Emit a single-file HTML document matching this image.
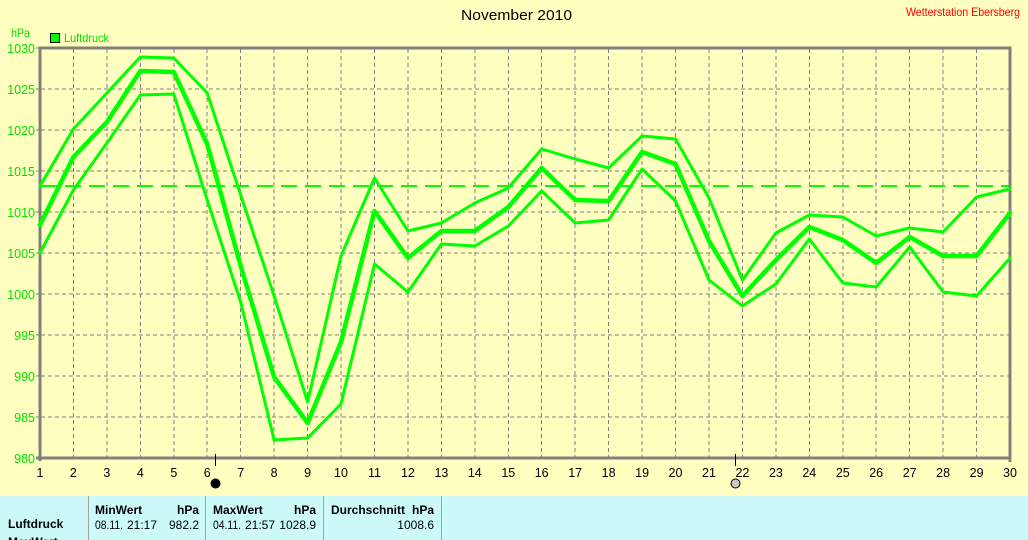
<!DOCTYPE html>
<html>
<head>
<meta charset="utf-8">
<style>
  html, body { margin: 0; padding: 0; background: #FFFFC0; }
  svg { display: block; }
  text { font-family: "Liberation Sans", "DejaVu Sans", sans-serif; }
</style>
</head>
<body>
<svg width="1028" height="540" viewBox="0 0 1028 540" xmlns="http://www.w3.org/2000/svg">
  <rect x="0" y="0" width="1028" height="540" fill="#FFFFC0"/>

  <text x="461" y="20" font-size="15" fill="#000" textLength="111" lengthAdjust="spacingAndGlyphs">November 2010</text>
  <text x="906" y="16" font-size="12" fill="#FF0000" textLength="114" lengthAdjust="spacingAndGlyphs">Wetterstation Ebersberg</text>

  <text x="11" y="37" font-size="12" fill="#00E000" textLength="19" lengthAdjust="spacingAndGlyphs">hPa</text>
  <rect x="50.5" y="33.5" width="9" height="9" fill="#00FF00" stroke="#000" stroke-width="1"/>
  <text x="64" y="42" font-size="12" fill="#00E000" textLength="45" lengthAdjust="spacingAndGlyphs">Luftdruck</text>

  <g stroke="#808080" stroke-width="1" stroke-dasharray="4,3" shape-rendering="crispEdges">
    <line x1="73.4" y1="49" x2="73.4" y2="457"/>
    <line x1="106.9" y1="49" x2="106.9" y2="457"/>
    <line x1="140.3" y1="49" x2="140.3" y2="457"/>
    <line x1="173.8" y1="49" x2="173.8" y2="457"/>
    <line x1="207.2" y1="49" x2="207.2" y2="457"/>
    <line x1="240.7" y1="49" x2="240.7" y2="457"/>
    <line x1="274.1" y1="49" x2="274.1" y2="457"/>
    <line x1="307.6" y1="49" x2="307.6" y2="457"/>
    <line x1="341" y1="49" x2="341" y2="457"/>
    <line x1="374.5" y1="49" x2="374.5" y2="457"/>
    <line x1="407.9" y1="49" x2="407.9" y2="457"/>
    <line x1="441.4" y1="49" x2="441.4" y2="457"/>
    <line x1="474.8" y1="49" x2="474.8" y2="457"/>
    <line x1="508.3" y1="49" x2="508.3" y2="457"/>
    <line x1="541.7" y1="49" x2="541.7" y2="457"/>
    <line x1="575.2" y1="49" x2="575.2" y2="457"/>
    <line x1="608.6" y1="49" x2="608.6" y2="457"/>
    <line x1="642.1" y1="49" x2="642.1" y2="457"/>
    <line x1="675.5" y1="49" x2="675.5" y2="457"/>
    <line x1="709" y1="49" x2="709" y2="457"/>
    <line x1="742.4" y1="49" x2="742.4" y2="457"/>
    <line x1="775.9" y1="49" x2="775.9" y2="457"/>
    <line x1="809.3" y1="49" x2="809.3" y2="457"/>
    <line x1="842.8" y1="49" x2="842.8" y2="457"/>
    <line x1="876.2" y1="49" x2="876.2" y2="457"/>
    <line x1="909.7" y1="49" x2="909.7" y2="457"/>
    <line x1="943.1" y1="49" x2="943.1" y2="457"/>
    <line x1="976.6" y1="49" x2="976.6" y2="457"/>

    <line x1="41" y1="89" x2="1009" y2="89"/>
    <line x1="41" y1="130" x2="1009" y2="130"/>
    <line x1="41" y1="171" x2="1009" y2="171"/>
    <line x1="41" y1="212" x2="1009" y2="212"/>
    <line x1="41" y1="253" x2="1009" y2="253"/>
    <line x1="41" y1="294" x2="1009" y2="294"/>
    <line x1="41" y1="335" x2="1009" y2="335"/>
    <line x1="41" y1="376" x2="1009" y2="376"/>
    <line x1="41" y1="417" x2="1009" y2="417"/>
  </g>

  <line x1="41" y1="186" x2="1009" y2="186" stroke="#00FF00" stroke-width="2" stroke-dasharray="16,8" shape-rendering="crispEdges"/>

  <g stroke="#808080" stroke-width="3" fill="none" shape-rendering="crispEdges">
    <polyline points="40,461 40,48 1010,48 1010,462"/>
    <line x1="36" y1="458" x2="1011" y2="458"/>
  </g>
  <g stroke="#808080" stroke-width="1" shape-rendering="crispEdges">
    <line x1="36" y1="48" x2="40" y2="48"/>
    <line x1="36" y1="89" x2="40" y2="89"/>
    <line x1="36" y1="130" x2="40" y2="130"/>
    <line x1="36" y1="171" x2="40" y2="171"/>
    <line x1="36" y1="212" x2="40" y2="212"/>
    <line x1="36" y1="253" x2="40" y2="253"/>
    <line x1="36" y1="294" x2="40" y2="294"/>
    <line x1="36" y1="335" x2="40" y2="335"/>
    <line x1="36" y1="376" x2="40" y2="376"/>
    <line x1="36" y1="417" x2="40" y2="417"/>
  </g>

  <g fill="none" stroke="#00FF00" stroke-linejoin="round" stroke-linecap="round">
    <polyline stroke-width="3" points="40,186 73.4,129 106.9,93 140.3,57 173.8,58 207.2,93 240.7,195 274.1,296 307.6,402 341,256 374.5,178 407.9,231 441.4,223 474.8,203 508.3,188 541.7,149 575.2,159 608.6,168 642.1,136 675.5,139 709,198 742.4,280 775.9,233 809.3,215 842.8,217 876.2,236 909.7,228 943.1,232 976.6,197 1010,189"/>
    <polyline stroke-width="4.5" points="40,225 73.4,157 106.9,122 140.3,71 173.8,72 207.2,144 240.7,266 274.1,377 307.6,423 341,342 374.5,211 407.9,258 441.4,231 474.8,231 508.3,207 541.7,168 575.2,200 608.6,201 642.1,152 675.5,164 709,241 742.4,296 775.9,260 809.3,227 842.8,240 876.2,263 909.7,237 943.1,256 976.6,256 1010,213"/>
    <polyline stroke-width="3" points="40,253 73.4,190 106.9,143 140.3,95 173.8,94 207.2,200 240.7,302 274.1,440 307.6,438 341,404 374.5,264 407.9,292 441.4,244 474.8,246 508.3,226 541.7,191 575.2,223 608.6,220 642.1,169 675.5,201 709,280 742.4,306 775.9,284 809.3,239 842.8,283 876.2,287 909.7,247 943.1,292 976.6,296 1010,258"/>
  </g>

  <g font-size="12.5" fill="#00E000" text-anchor="end">
    <text x="35" y="53">1030</text>
    <text x="35" y="94">1025</text>
    <text x="35" y="135">1020</text>
    <text x="35" y="176">1015</text>
    <text x="35" y="217">1010</text>
    <text x="35" y="258">1005</text>
    <text x="35" y="299">1000</text>
    <text x="35" y="340">995</text>
    <text x="35" y="381">990</text>
    <text x="35" y="422">985</text>
    <text x="35" y="463">980</text>
  </g>

  <g font-size="12.5" fill="#000" text-anchor="middle">
    <text x="40" y="477">1</text>
    <text x="73.4" y="477">2</text>
    <text x="106.9" y="477">3</text>
    <text x="140.3" y="477">4</text>
    <text x="173.8" y="477">5</text>
    <text x="207.2" y="477">6</text>
    <text x="240.7" y="477">7</text>
    <text x="274.1" y="477">8</text>
    <text x="307.6" y="477">9</text>
    <text x="341" y="477">10</text>
    <text x="374.5" y="477">11</text>
    <text x="407.9" y="477">12</text>
    <text x="441.4" y="477">13</text>
    <text x="474.8" y="477">14</text>
    <text x="508.3" y="477">15</text>
    <text x="541.7" y="477">16</text>
    <text x="575.2" y="477">17</text>
    <text x="608.6" y="477">18</text>
    <text x="642.1" y="477">19</text>
    <text x="675.5" y="477">20</text>
    <text x="709" y="477">21</text>
    <text x="742.4" y="477">22</text>
    <text x="775.9" y="477">23</text>
    <text x="809.3" y="477">24</text>
    <text x="842.8" y="477">25</text>
    <text x="876.2" y="477">26</text>
    <text x="909.7" y="477">27</text>
    <text x="943.1" y="477">28</text>
    <text x="976.6" y="477">29</text>
    <text x="1010" y="477">30</text>
  </g>

  <g shape-rendering="crispEdges" stroke="#000" stroke-width="1">
    <line x1="215.5" y1="454" x2="215.5" y2="466"/>
    <line x1="735.5" y1="454" x2="735.5" y2="466"/>
  </g>
  <circle cx="215.5" cy="483.5" r="4.5" fill="#000" stroke="#000" stroke-width="1"/>
  <circle cx="735.5" cy="483.5" r="4.5" fill="#C8C8C8" stroke="#000" stroke-width="1"/>

  <rect x="0" y="496" width="1028" height="44" fill="#CCFAF8"/>
  <g stroke="#A0A0A0" stroke-width="1" shape-rendering="crispEdges">
    <line x1="88.5" y1="496" x2="88.5" y2="540"/>
    <line x1="205.5" y1="496" x2="205.5" y2="540"/>
    <line x1="323.5" y1="496" x2="323.5" y2="540"/>
    <line x1="441.5" y1="496" x2="441.5" y2="540"/>
  </g>
  <g font-size="12" fill="#000" font-weight="bold">
    <text x="95" y="514">MinWert</text>
    <text x="199" y="514" text-anchor="end">hPa</text>
    <text x="213" y="514">MaxWert</text>
    <text x="316" y="514" text-anchor="end">hPa</text>
    <text x="331" y="514">Durchschnitt</text>
    <text x="434" y="514" text-anchor="end">hPa</text>
    <text x="8" y="528">Luftdruck</text>
    <text x="8" y="546">MaxWert</text>
  </g>
  <g font-size="12" fill="#000">
    <text x="95" y="529" textLength="28" lengthAdjust="spacingAndGlyphs">08.11.</text>
    <text x="127" y="529">21:17</text>
    <text x="199" y="529" text-anchor="end">982.2</text>
    <text x="213" y="529" textLength="28" lengthAdjust="spacingAndGlyphs">04.11.</text>
    <text x="245" y="529">21:57</text>
    <text x="316" y="529" text-anchor="end">1028.9</text>
    <text x="434" y="529" text-anchor="end">1008.6</text>
  </g>
</svg>
</body>
</html>
